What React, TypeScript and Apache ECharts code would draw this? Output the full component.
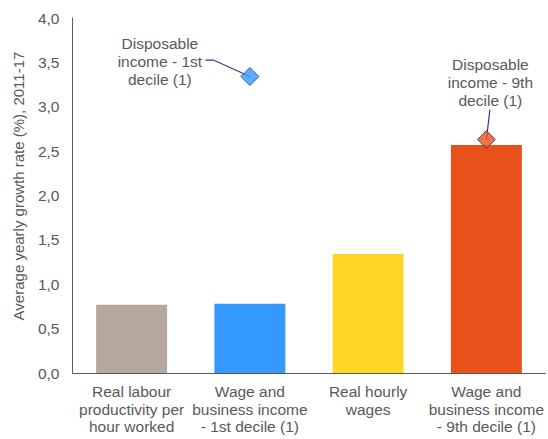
import React, { useEffect, useRef } from "react";
import * as echarts from "echarts";

const categories = [
  "Real labour\nproductivity per\nhour worked",
  "Wage and\nbusiness income\n- 1st decile (1)",
  "Real hourly\nwages",
  "Wage and\nbusiness income\n- 9th decile (1)",
];
const barValues = [0.77, 0.78, 1.34, 2.57];
const barColors = ["#b5a69e", "#3399ff", "#ffd726", "#e8511a"];
const diamondValues: (number | null)[] = [null, 3.34, null, 2.63];
const diamondColors = ["#3399ff", "#3399ff", "#3399ff", "#e8511a"];
const diamondLabels = ["", "Disposable\nincome - 1st\ndecile (1)", "", "Disposable\nincome - 9th\ndecile (1)"];
const yAxisTitle = "Average yearly growth rate (%), 2011-17";

const FONT = "'Liberation Sans', Arial, sans-serif";
const TXT = "#595959";

export default function App() {
  const ref = useRef<HTMLDivElement>(null);
  useEffect(() => {
    if (!ref.current) return;
    const chart = echarts.init(ref.current, undefined, { renderer: "svg" });
    chart.setOption({
      animation: false,
      textStyle: { fontFamily: FONT },
      grid: { left: 72.5, right: 2.5, top: 18, bottom: 66, containLabel: false },
      xAxis: {
        type: "category",
        data: categories,
        axisLine: { show: true, lineStyle: { color: "#595959", width: 1 } },
        axisTick: { show: false },
        axisLabel: { interval: 0, color: TXT, fontSize: 15.5, lineHeight: 17.5, margin: 10, fontFamily: FONT },
      },
      yAxis: {
        type: "value",
        min: 0,
        max: 4,
        interval: 0.5,
        axisLine: { show: true, lineStyle: { color: "#595959", width: 1 } },
        axisTick: { show: false },
        splitLine: { show: false },
        axisLabel: {
          color: TXT,
          fontSize: 15.5,
          margin: 13,
          fontFamily: FONT,
          formatter: (v: number) => v.toFixed(1).replace(".", ","),
        },
      },
      series: [
        {
          type: "bar",
          barWidth: "60%",
          data: barValues.map((v, i) => ({ value: v, itemStyle: { color: barColors[i] } })),
          z: 2,
        },
        {
          type: "scatter",
          symbol: "diamond",
          symbolSize: 18,
          data: diamondValues.map((v, i) => ({
            value: v,
            itemStyle: { color: diamondColors[i], borderColor: "#2e3a87", borderWidth: 1 },
          })),
          z: 5,
        },
      ],
    });

    const graphics: any[] = [
      {
        type: "text",
        x: 18,
        y: 186,
        rotation: Math.PI / 2,
        style: {
          text: yAxisTitle,
          font: `15px ${FONT}`,
          fill: TXT,
          align: "center",
          verticalAlign: "middle",
        },
      },
    ];
    const labelOffsets: Record<number, { text: [number, number]; line: [number, number][] }> = {
      1: { text: [-90, -15], line: [[-44.5, -16.5], [-36.5, -16.5], [0, 0]] },
      3: { text: [4, -57], line: [[3.5, -30], [0, 0]] },
    };
    diamondValues.forEach((v, i) => {
      if (v == null) return;
      const p = chart.convertToPixel({ seriesIndex: 1 }, [i, v]) as number[];
      const o = labelOffsets[i];
      graphics.push({
        type: "text",
        x: p[0] + o.text[0],
        y: p[1] + o.text[1],
        z: 10,
        style: {
          text: diamondLabels[i],
          font: `15.5px ${FONT}`,
          fill: TXT,
          align: "center",
          verticalAlign: "middle",
          lineHeight: 18,
        },
      });
      graphics.push({
        type: "polyline",
        z: 1,
        shape: { points: o.line.map((q) => [p[0] + q[0], p[1] + q[1]]) },
        style: { stroke: "#2e3a87", lineWidth: 1.2, fill: "none" },
      });
    });
    chart.setOption({ graphic: graphics });
    return () => chart.dispose();
  }, []);
  return <div ref={ref} style={{ width: 548, height: 439, position: "absolute", left: 0, top: 0 }} />;
}
